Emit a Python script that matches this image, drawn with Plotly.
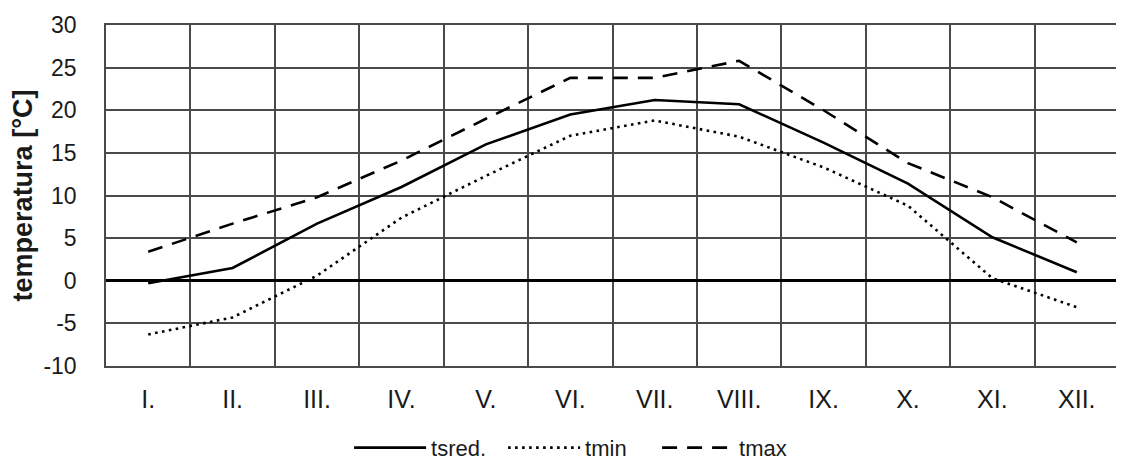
import plotly.graph_objects as go

months = ["I.", "II.", "III.", "IV.", "V.", "VI.", "VII.", "VIII.", "IX.", "X.", "XI.", "XII."]
tsred = [-0.3, 1.5, 6.7, 11.0, 16.0, 19.5, 21.2, 20.7, 16.2, 11.4, 5.1, 1.0]
tmin = [-6.3, -4.3, 0.6, 7.4, 12.3, 17.0, 18.8, 16.9, 13.3, 8.8, 0.3, -3.1]
tmax = [3.4, 6.7, 9.8, 14.1, 19.0, 23.8, 23.8, 25.8, 20.0, 13.8, 9.8, 4.5]
y_ticks = [-10, -5, 0, 5, 10, 15, 20, 25, 30]
y_labels = ["-10", "-5", "0", "5", "10", "15", "20", "25", "30"]

font = "Liberation Sans, Arial, sans-serif"
grid = "#4a4a4a"

fig = go.Figure()
fig.add_trace(go.Scatter(x=months, y=tsred, name="tsred.", mode="lines",
                         line=dict(color="black", width=2.6)))
fig.add_trace(go.Scatter(x=months, y=tmin, name="tmin", mode="lines",
                         line=dict(color="black", width=2.6, dash="2.6px,4.4px")))
fig.add_trace(go.Scatter(x=months, y=tmax, name="tmax", mode="lines",
                         line=dict(color="black", width=2.6, dash="15px,10px")))

fig.update_layout(
    width=1116, height=454,
    margin=dict(l=98, r=5, t=17, b=96, autoexpand=False),
    paper_bgcolor="white", plot_bgcolor="white",
    font=dict(family=font, size=20, color="#1a1a1a"),
    showlegend=True,
    legend=dict(orientation="h", x=0.468, y=-0.24, xanchor="center", yanchor="middle",
                font=dict(size=22), itemwidth=72, entrywidth=67, entrywidthmode="pixels"),
    xaxis=dict(type="category", tickson="boundaries", range=[-0.5, 11.5],
               showgrid=True, gridcolor=grid, automargin=False,
               gridwidth=1.5, showline=True, linecolor=grid, linewidth=1.5, mirror=True,
               ticks="", tickfont=dict(size=25), ticklabelstandoff=10),
    yaxis=dict(range=[-10, 30], tickvals=y_ticks, ticktext=y_labels, automargin=False,
               showgrid=True, gridcolor=grid, gridwidth=1.5,
               showline=True, linecolor=grid, linewidth=1.5, mirror=True,
               zeroline=True, zerolinecolor="black", zerolinewidth=3,
               ticks="", tickfont=dict(size=23), ticklabelstandoff=23,
               title=dict(text="<b>temperatura [°C]</b>", font=dict(size=27), standoff=4)),
)

fig.write_html("out.html")
